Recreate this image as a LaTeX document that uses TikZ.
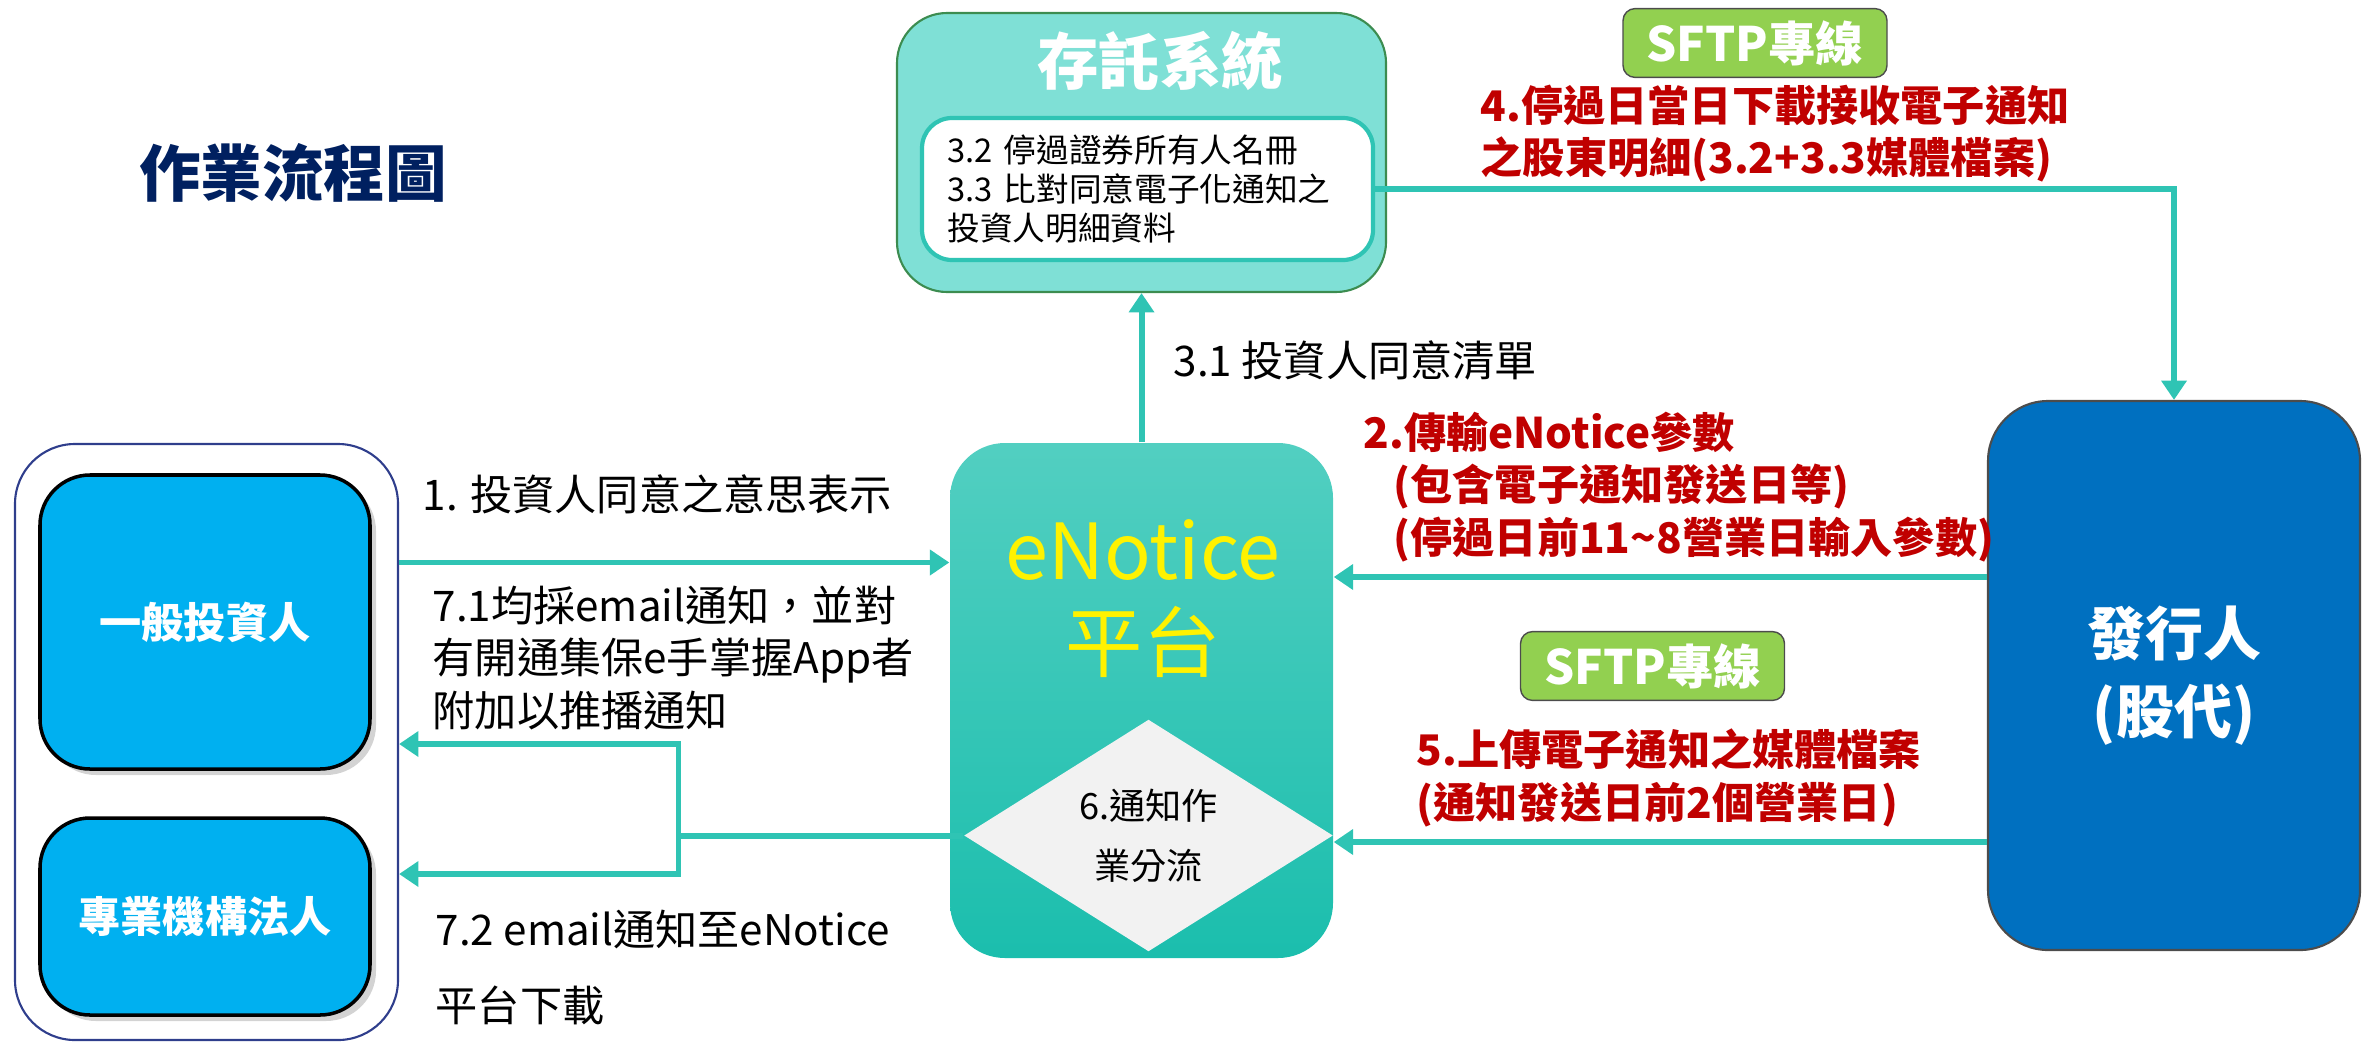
\documentclass[tikz,border=0pt]{standalone}
\usepackage{fontspec}
\setmainfont{Noto Sans CJK TC}
\usetikzlibrary{arrows.meta,shapes.geometric,shadows}
\definecolor{flowteal}{RGB}{47,196,180}
\definecolor{depofill}{RGB}{127,224,214}
\definecolor{depoline}{RGB}{60,140,80}
\definecolor{notetop}{RGB}{82,207,193}
\definecolor{notebot}{RGB}{27,190,173}
\definecolor{invblue}{RGB}{0,176,240}
\definecolor{issblue}{RGB}{0,112,192}
\definecolor{sftpgreen}{RGB}{146,208,80}
\definecolor{labelred}{RGB}{192,0,0}
\definecolor{titlenavy}{RGB}{0,32,96}
\definecolor{framenavy}{RGB}{47,62,140}

\begin{document}
\begin{tikzpicture}[
	flow/.style={draw=flowteal, line width=1.7pt, -{Triangle[length=5.5pt,width=7pt]}},
	party/.style={draw=black, line width=1pt, fill=invblue, rounded corners=0.5cm, minimum width=3.3cm, text=white, font=\bfseries\fontsize{12}{14}\selectfont, drop shadow={shadow xshift=0.06cm, shadow yshift=-0.06cm, opacity=0.35}},
	sftp/.style={draw=black!70, fill=sftpgreen, rounded corners=0.12cm, minimum width=2.64cm, minimum height=0.64cm, text=white, font=\bfseries\fontsize{13.5}{15}\selectfont},
	redlabel/.style={anchor=west, align=left, inner sep=0, text=labelred, font=\bfseries\fontsize{12}{15}\selectfont},
	blacklabel/.style={anchor=west, align=left, inner sep=0, font=\fontsize{12}{14.8}\selectfont}
	]
	\useasboundingbox (0,0) rectangle (23.62,10.41);

	\node[font=\bfseries\fontsize{17.5}{20}\selectfont, text=titlenavy] (title) at (2.93,8.685) {作業流程圖};

	\node[draw=depoline, line width=0.6pt, fill=depofill, rounded corners=0.5cm, minimum width=4.89cm, minimum height=2.79cm] (depo) at (11.415,8.885) {};
	\node[text=white, font=\bfseries\fontsize{17.5}{20}\selectfont] (depotitle) at (11.6,9.80) {存託系統};
	\node[draw=flowteal, line width=1.2pt, fill=white, rounded corners=0.3cm, minimum width=4.51cm, minimum height=1.42cm, text width=4.0cm, inner xsep=0.25cm, align=left, font=\fontsize{9.3}{11}\selectfont] (depolist) at (11.475,8.52) {3.2 停過證券所有人名冊\\3.3 比對同意電子化通知之\\投資人明細資料};

	\node[top color=notetop, bottom color=notebot, rounded corners=0.55cm, minimum width=3.83cm, minimum height=5.15cm] (enotice) at (11.415,3.405) {};
	\node[text=yellow, align=center, font=\fontsize{22}{26}\selectfont] (enoticetitle) at (11.43,4.425) {eNotice\\平台};
	\node[diamond, fill=black!5, inner sep=0, minimum width=3.69cm, minimum height=2.07cm, align=center, font=\fontsize{10.3}{17}\selectfont] (note) at (11.485,2.055) {6.通知作\\業分流};

	\node[draw=framenavy, line width=0.6pt, rounded corners=0.6cm, minimum width=3.83cm, minimum height=5.96cm] (cont) at (2.065,2.99) {};
	\node[party, minimum height=2.94cm] (inv) at (2.05,4.19) {一般投資人};
	\node[party, minimum height=1.97cm] (inst) at (2.05,1.245) {專業機構法人};

	\node[draw=black!70, line width=0.6pt, fill=issblue, rounded corners=0.6cm, minimum width=3.72cm, minimum height=5.49cm, text=white, align=center, font=\bfseries\fontsize{16.5}{22}\selectfont] (issuer) at (21.74,3.655) {發行人\\(股代)};

	\node[sftp] (sftpup) at (17.55,9.98) {SFTP專線};
	\node[sftp] (sftplow) at (16.525,3.75) {SFTP專線};

	\node[redlabel] (step4) at (14.80,9.075) {4.停過日當日下載接收電子通知\\之股東明細(3.2+3.3媒體檔案)};
	\node[redlabel] (step2) at (13.63,5.54) {2.傳輸eNotice參數\\\hspace*{0.3cm}(包含電子通知發送日等)\\\hspace*{0.3cm}(停過日前11\textasciitilde8營業日輸入參數)};
	\node[redlabel] (step5) at (14.16,2.63) {5.上傳電子通知之媒體檔案\\(通知發送日前2個營業日)};

	\node[blacklabel] (step1) at (4.22,5.47) {1. 投資人同意之意思表示};
	\node[blacklabel] (step31) at (11.73,6.81) {3.1 投資人同意清單};
	\node[blacklabel] (step71) at (4.32,3.83) {7.1均採email通知，並對\\有開通集保e手掌握App者\\附加以推播通知};
	\node[blacklabel, font=\fontsize{12}{21.6}\selectfont] (step72) at (4.35,0.74) {7.2 email通知至eNotice\\平台下載};

	\coordinate (lvl1) at (0,4.785);
	\coordinate (lvl2) at (0,4.64);
	\coordinate (lvl5) at (0,1.99);
	\coordinate (lvl71) at (0,2.97);
	\coordinate (lvl72) at (0,1.67);
	\coordinate (fork) at (6.785,2.055);

	\draw[flow] (cont.east |- lvl1) -- (enotice.west |- lvl1);
	\draw[flow] (issuer.west |- lvl2) -- (enotice.east |- lvl2);
	\draw[flow] (issuer.west |- lvl5) -- (enotice.east |- lvl5);
	\draw[flow] (enotice.north) -- (depo.south);
	\draw[flow] (depolist.east) -| (issuer.north);
	\draw[flow] (note.west) -- (fork) |- (cont.east |- lvl71);
	\draw[flow] (fork) |- (cont.east |- lvl72);
\end{tikzpicture}
\end{document}
